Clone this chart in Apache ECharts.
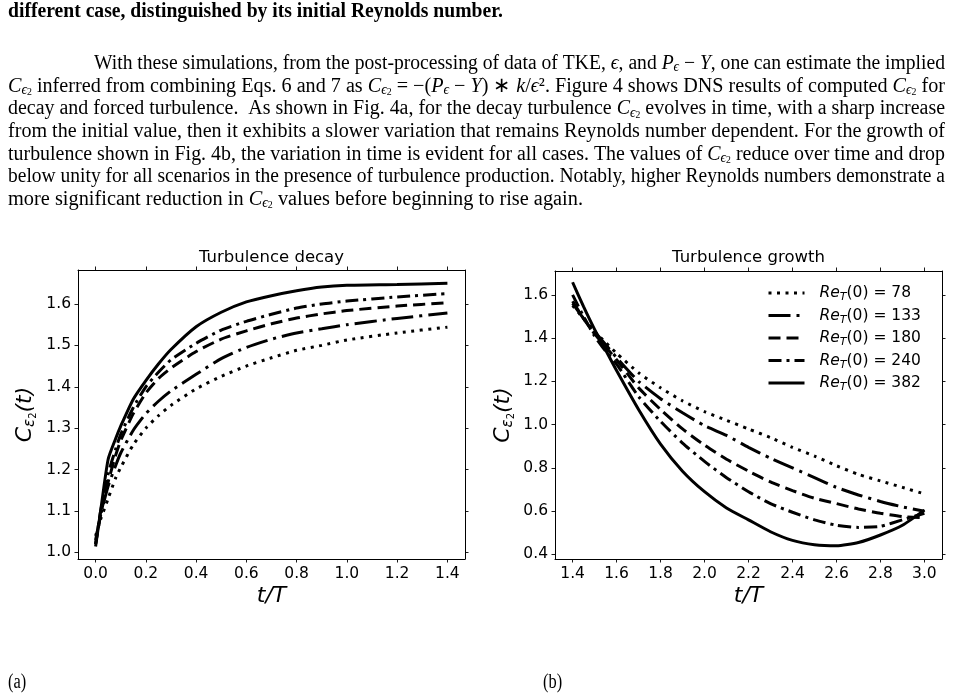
<!DOCTYPE html>
<html>
<head>
<meta charset="utf-8">
<script src="https://cdn.jsdelivr.net/npm/echarts@6/dist/echarts.min.js"></script>
<style>
  html, body { margin: 0; padding: 0; background: #fff; }
  #main { width: 953px; height: 698px; }
</style>
</head>
<body>
<div id="main"></div>
<script>
// Re_T(0) cases, legend order
const reNames = ['78', '133', '180', '240', '382']

// (a) turbulence decay
const decayT = [0, 0.02, 0.05, 0.08, 0.1, 0.15, 0.2, 0.25, 0.3, 0.4, 0.5, 0.6, 0.7, 0.8, 0.9, 1.0, 1.2, 1.4]
const decay78 = [1.04, 1.08, 1.13, 1.18, 1.205, 1.26, 1.30, 1.33, 1.355, 1.395, 1.425, 1.45, 1.47, 1.488, 1.50, 1.513, 1.53, 1.544]
const decay133 = [1.03, 1.09, 1.16, 1.21, 1.24, 1.295, 1.335, 1.365, 1.39, 1.43, 1.468, 1.495, 1.515, 1.53, 1.54, 1.55, 1.565, 1.578]
const decay180 = [1.02, 1.09, 1.17, 1.235, 1.27, 1.335, 1.385, 1.42, 1.445, 1.485, 1.515, 1.535, 1.552, 1.566, 1.576, 1.584, 1.595, 1.603]
const decay240 = [1.02, 1.10, 1.19, 1.25, 1.285, 1.35, 1.40, 1.435, 1.465, 1.505, 1.537, 1.558, 1.575, 1.59, 1.60, 1.607, 1.617, 1.625]
const decay382 = [1.014, 1.10, 1.225, 1.275, 1.305, 1.37, 1.415, 1.455, 1.49, 1.545, 1.58, 1.605, 1.62, 1.632, 1.641, 1.645, 1.647, 1.65]

// (b) turbulence growth
const growthT = [1.4, 1.45, 1.5, 1.55, 1.6, 1.7, 1.8, 1.9, 2.0, 2.1, 2.2, 2.3, 2.4, 2.5, 2.6, 2.7, 2.8, 2.9, 3.0]
const growth78 = [1.55, 1.49, 1.43, 1.38, 1.33, 1.24, 1.17, 1.11, 1.06, 1.02, 0.98, 0.94, 0.895, 0.855, 0.81, 0.77, 0.74, 0.71, 0.68]
const growth133 = [1.56, 1.49, 1.43, 1.37, 1.31, 1.20, 1.12, 1.055, 0.995, 0.95, 0.895, 0.845, 0.80, 0.755, 0.71, 0.675, 0.645, 0.62, 0.60]
const growth180 = [1.57, 1.49, 1.42, 1.36, 1.30, 1.17, 1.07, 0.98, 0.905, 0.84, 0.785, 0.735, 0.695, 0.66, 0.635, 0.61, 0.59, 0.575, 0.57]
const growth240 = [1.60, 1.50, 1.41, 1.34, 1.28, 1.13, 1.015, 0.915, 0.83, 0.755, 0.69, 0.635, 0.595, 0.56, 0.535, 0.525, 0.53, 0.56, 0.59]
const growth382 = [1.658, 1.545, 1.44, 1.345, 1.25, 1.07, 0.91, 0.785, 0.69, 0.615, 0.56, 0.505, 0.465, 0.445, 0.44, 0.455, 0.49, 0.535, 0.605]

// tick labels
const decayXTicks = [0, 0.2, 0.4, 0.6, 0.8, 1.0, 1.2, 1.4]
const decayYTicks = [1.0, 1.1, 1.2, 1.3, 1.4, 1.5, 1.6]
const growthXTicks = [1.4, 1.6, 1.8, 2.0, 2.2, 2.4, 2.6, 2.8, 3.0]
const growthYTicks = [0.4, 0.6, 0.8, 1.0, 1.2, 1.4, 1.6]

// line patterns per case (matplotlib-like)
const dashes = {
	'78': [3, 5.5],
	'133': [22, 6, 3, 6],
	'180': [12, 6],
	'240': [13, 5, 3, 5],
	'382': 'solid'
}

const chart = echarts.init(document.querySelector('#main'))

const pair = (xs, ys) => xs.map((x, i) => [x, ys[i]])

const sans = 'DejaVu Sans'
const serif = 'Liberation Serif'

//axis builders
function xAxisPair(gi, min, max, ticks) {
	const base = {
		type: 'value', gridIndex: gi, min: min, max: max,
		axisLine: {show: true, onZero: false, lineStyle: {color: '#000', width: 1}},
		axisTick: {show: true, length: 3.5, customValues: ticks, lineStyle: {color: '#000', width: 0.9}},
		splitLine: {show: false}
	}
	return [
		Object.assign({}, base, {
			position: 'bottom',
			name: 't/T', nameLocation: 'middle', nameGap: 26,
			nameTextStyle: {fontFamily: sans, fontStyle: 'italic', fontSize: 22, color: '#000'},
			axisLabel: {customValues: ticks, formatter: v => v.toFixed(1), color: '#000', fontFamily: sans, fontSize: 15.5, margin: 7}
		}),
		Object.assign({}, base, {position: 'top', axisLabel: {show: false}})
	]
}

function yAxisPair(gi, min, max, ticks, gap) {
	const base = {
		type: 'value', gridIndex: gi, min: min, max: max,
		axisLine: {show: true, onZero: false, lineStyle: {color: '#000', width: 1}},
		axisTick: {show: true, length: 3.5, customValues: ticks, lineStyle: {color: '#000', width: 0.9}},
		splitLine: {show: false}
	}
	return [
		Object.assign({}, base, {
			position: 'left',
			name: '{m|C}{s|ε}{ss|2}{m|(}{mi|t}{m|)}', nameLocation: 'middle', nameGap: gap,
			nameTextStyle: {
				color: '#000',
				rich: {
					m: {fontFamily: sans, fontSize: 22, fontStyle: 'italic', lineHeight: 26, color: '#000'},
					mi: {fontFamily: sans, fontSize: 22, fontStyle: 'italic', lineHeight: 26, color: '#000'},
					s: {fontFamily: sans, fontSize: 15, fontStyle: 'italic', lineHeight: 10, verticalAlign: 'bottom', color: '#000'},
					ss: {fontFamily: sans, fontSize: 10, lineHeight: 2, verticalAlign: 'bottom', color: '#000'}
				}
			},
			axisLabel: {customValues: ticks, formatter: v => v.toFixed(1), color: '#000', fontFamily: sans, fontSize: 15.5, margin: 7}
		}),
		Object.assign({}, base, {position: 'right', axisLabel: {show: false}})
	]
}

function caseSeries(name, xi, data) {
	return {
		name: name, type: 'line', xAxisIndex: xi, yAxisIndex: xi,
		data: data, symbol: 'none', showSymbol: false,
		smooth: 0.2,
		lineStyle: {color: '#000', width: 3, type: dashes[name], cap: 'butt'},
		itemStyle: {color: '#000'}
	}
}

const decaySets = [decay78, decay133, decay180, decay240, decay382]
const growthSets = [growth78, growth133, growth180, growth240, growth382]

const series = []
reNames.forEach((n, i) => series.push(caseSeries(n, 0, pair(decayT, decaySets[i]))))
reNames.forEach((n, i) => series.push(caseSeries(n, 2, pair(growthT, growthSets[i]))))

// ---- paper text around the figure ----
const mctx = document.createElement('canvas').getContext('2d')
const FS = 20.5
const richDef = {
	n: {fontFamily: serif, fontSize: FS, lineHeight: 22, fill: '#000'},
	i: {fontFamily: serif, fontSize: FS, fontStyle: 'italic', lineHeight: 22, fill: '#000'},
	b: {fontFamily: serif, fontSize: FS, fontWeight: 'bold', lineHeight: 22, fill: '#000'},
	s: {fontFamily: serif, fontSize: 14, fontStyle: 'italic', lineHeight: 8, verticalAlign: 'bottom', fill: '#000'},
	ss: {fontFamily: serif, fontSize: 10, lineHeight: 1, verticalAlign: 'bottom', fill: '#000'}
}
function cssFont(st) {
	return (st.fontStyle || 'normal') + ' ' + (st.fontWeight || 'normal') + ' ' + st.fontSize + 'px "' + st.fontFamily + '"'
}
function naturalWidth(rt) {
	let w = 0
	rt.replace(/\{(\w+)\|([^}]*)\}/g, (m, k, t) => {
		mctx.font = cssFont(richDef[k])
		w += mctx.measureText(t).width
		return m
	})
	return w
}

const C2 = '{i|C}{s|ϵ}{ss|2}'
// [rich text, left x, right x, baseline]
const paperLines = [
	['{b|different case, distinguished by its initial Reynolds number.}', 8, 503, 19],
	['{n|With these simulations, from the post-processing of data of TKE, }{i|ϵ}{n|, and }{i|P}{s|ϵ}{n| − }{i|Y}{n|, one can estimate the implied}', 94, 945, 70.5],
	[C2 + '{n| inferred from combining Eqs. 6 and 7 as }' + C2 + '{n| = −(}{i|P}{s|ϵ}{n| − }{i|Y}{n|) ∗ }{i|k}{n|/}{i|ϵ}{n|². Figure 4 shows DNS results of computed }' + C2 + '{n| for}', 8, 945, 93.2],
	['{n|decay and forced turbulence.  As shown in Fig. 4a, for the decay turbulence }' + C2 + '{n| evolves in time, with a sharp increase}', 8, 945, 115.9],
	['{n|from the initial value, then it exhibits a slower variation that remains Reynolds number dependent. For the growth of}', 8, 945, 138.6],
	['{n|turbulence shown in Fig. 4b, the variation in time is evident for all cases. The values of }' + C2 + '{n| reduce over time and drop}', 8, 945, 161.3],
	['{n|below unity for all scenarios in the presence of turbulence production. Notably, higher Reynolds numbers demonstrate a}', 8, 945, 184],
	['{n|more significant reduction in }' + C2 + '{n| values before beginning to rise again.}', 8, 583, 206.7]
]

const graphics = paperLines.map(l => ({
	type: 'text', x: l[1], y: l[3] - 0.337 * FS,
	scaleX: (l[2] - l[1]) / naturalWidth(l[0]),
	style: {text: l[0], rich: richDef, fill: '#000', align: 'left', verticalAlign: 'middle'}
}))

// sub-figure labels and plot titles
const capScale = 0.8
graphics.push(
	{type: 'text', x: 8, y: 683, scaleX: capScale, style: {text: '(a)', font: FS + 'px "' + serif + '"', fill: '#000', verticalAlign: 'middle'}},
	{type: 'text', x: 543, y: 683, scaleX: capScale, style: {text: '(b)', font: FS + 'px "' + serif + '"', fill: '#000', verticalAlign: 'middle'}},
	{type: 'text', x: 271.5, y: 258, style: {text: 'Turbulence decay', font: '16.5px "' + sans + '"', fill: '#000', align: 'center', verticalAlign: 'middle'}},
	{type: 'text', x: 748.5, y: 258, style: {text: 'Turbulence growth', font: '16.5px "' + sans + '"', fill: '#000', align: 'center', verticalAlign: 'middle'}}
)

const option = {
	animation: false,
	backgroundColor: '#fff',
	grid: [
		{left: 78, top: 270, width: 387, height: 289},
		{left: 555, top: 271, width: 387, height: 288}
	],
	xAxis: xAxisPair(0, -0.07, 1.47, decayXTicks).concat(xAxisPair(1, 1.32, 3.08, growthXTicks)),
	yAxis: yAxisPair(0, 0.984, 1.682, decayYTicks, 40).concat(yAxisPair(1, 0.379, 1.71, growthYTicks, 39)),
	legend: {
		data: reNames,
		orient: 'vertical',
		left: 767, top: 285,
		padding: 0,
		itemWidth: 36, itemHeight: 14, itemGap: 4.5,
		itemStyle: {color: 'rgba(0,0,0,0)', borderWidth: 0, opacity: 0},
		lineStyle: {width: 3, color: '#000', cap: 'butt'},
		formatter: n => '{g|}{i|Re}{s|T}{n|(0) = ' + n + '}',
		textStyle: {
			color: '#000',
			rich: {
				g: {width: 10},
				i: {fontFamily: sans, fontSize: 15.5, fontStyle: 'italic', lineHeight: 20, color: '#000'},
				n: {fontFamily: sans, fontSize: 15.5, lineHeight: 20, color: '#000'},
				s: {fontFamily: sans, fontSize: 11, fontStyle: 'italic', lineHeight: 8, verticalAlign: 'bottom', color: '#000'}
			}
		}
	},
	series: series,
	graphic: graphics
}

chart.setOption(option)
</script>
</body>
</html>
